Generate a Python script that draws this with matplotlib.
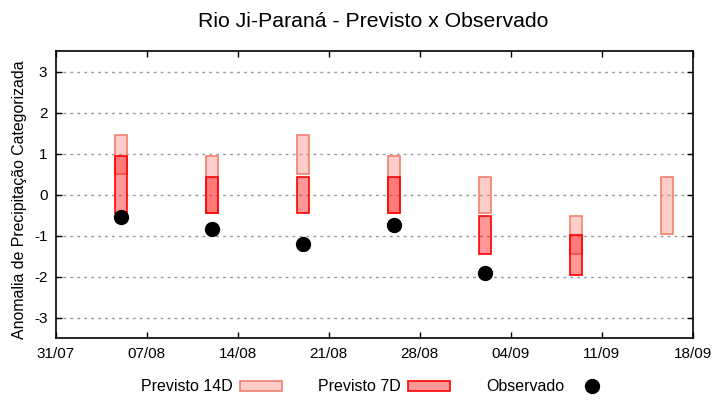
import matplotlib
matplotlib.use("Agg")
import matplotlib.pyplot as plt
import matplotlib.dates as mdates
from matplotlib.patches import Patch
from matplotlib.lines import Line2D
from matplotlib import font_manager
import pandas as pd

plt.rcParams['font.family'] = ['Liberation Sans', 'DejaVu Sans']
names = {f.name for f in font_manager.fontManager.ttflist}
narrow = 'Liberation Sans Narrow' if 'Liberation Sans Narrow' in names else 'Liberation Sans'

# Data
dates = pd.to_datetime(["2023-08-05", "2023-08-12", "2023-08-19", "2023-08-26",
                        "2023-09-02", "2023-09-09", "2023-09-16"])
p14_low = [0.50, -0.45, 0.50, -0.45, -0.45, -1.45, -0.96]
p14_high = [1.45, 0.95, 1.45, 0.95, 0.43, -0.52, 0.43]
p7_low = [-0.45, -0.45, -0.45, -0.45, -1.45, -1.96]
p7_high = [0.95, 0.43, 0.43, 0.43, -0.52, -0.98]
obs = [-0.53, -0.83, -1.20, -0.73, -1.91]
xtick_dates = pd.date_range("2023-07-31", "2023-09-18", freq="7D")

fig = plt.figure(figsize=(7.2, 4.0), dpi=100)
ax = fig.add_axes([0.0774, 0.154, 0.885, 0.718])

xn = mdates.date2num(dates)
w = 0.95
ax.bar(xn, [h - l for l, h in zip(p14_low, p14_high)], bottom=p14_low, width=w,
       color=(250/255, 128/255, 114/255, 0.38), edgecolor='#f08070', linewidth=1.2, zorder=2)
n7 = len(p7_low)
ax.bar(xn[:n7], [h - l for l, h in zip(p7_low, p7_high)], bottom=p7_low, width=w,
       color=(1, 0, 0, 0.4), edgecolor='#ff0000', linewidth=1.2, zorder=3)
ax.plot(xn[:len(obs)], obs, 'o', color='black', markersize=10, zorder=4)

ax.set_xlim(mdates.date2num(xtick_dates[0]), mdates.date2num(xtick_dates[-1]))
ax.set_ylim(-3.5, 3.5)
ax.set_xticks(mdates.date2num(xtick_dates))
ax.set_xticklabels([d.strftime("%d/%m") for d in xtick_dates], family=narrow, fontsize=11)
ax.set_yticks([-3, -2, -1, 0, 1, 2, 3])
ax.set_yticklabels(["-3", "-2", "-1", "0", "1", "2", "3"], fontsize=11)
ax.tick_params(direction='in', top=True, right=True, length=4, width=1, pad=6)
ax.yaxis.grid(True, linestyle=(0, (2, 3)), color='#999999', linewidth=1)
ax.set_axisbelow(True)
for s in ax.spines.values():
    s.set_linewidth(1.2)

ax.set_ylabel("Anomalia de Precipitação Categorizada", fontsize=11.4, labelpad=4)
ax.yaxis.set_label_coords(-0.0455, 0.482)
fig.text(0.518, 0.947, "Rio Ji-Paraná - Previsto x Observado", ha='center', va='center', fontsize=15.3)

handles = [Patch(facecolor=(250/255, 128/255, 114/255, 0.38), edgecolor='#f08070', linewidth=1.2),
           Patch(facecolor=(1, 0, 0, 0.4), edgecolor='#ff0000', linewidth=1.2),
           Line2D([], [], marker='o', linestyle='none', color='black', markersize=10)]
fig.legend(handles, ["Previsto 14D", "Previsto 7D", "Observado"], loc='center',
           bbox_to_anchor=(0.524, 0.033), ncol=3, frameon=False, markerfirst=False,
           fontsize=11.5, handlelength=2.63, handleheight=0.6, columnspacing=2.25, handletextpad=0.44)

fig.savefig("out.png", dpi=100)
